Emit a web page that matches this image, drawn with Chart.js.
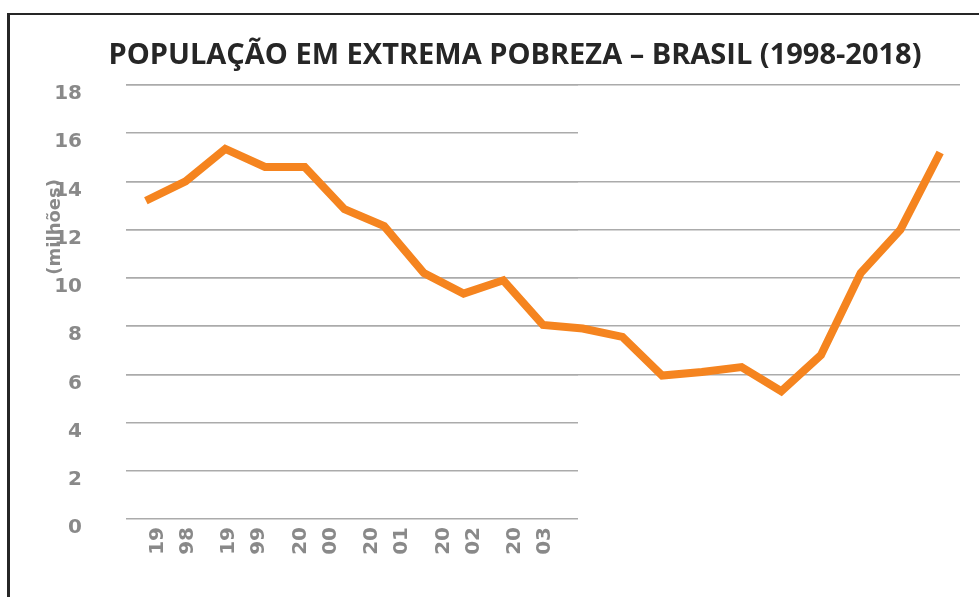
<!DOCTYPE html>
<html>
<head>
<meta charset="utf-8">
<script src="https://cdn.jsdelivr.net/npm/chart.js@4.4.1/dist/chart.umd.min.js"></script>
<style>
  html, body { margin: 0; padding: 0; background: #fff; overflow: hidden; }
  #stage { position: relative; width: 979px; height: 597px; overflow: hidden; }
  #frame { position: absolute; left: 7px; top: 13px; width: 1100px; height: 700px;
           border-left: 3px solid #262626; border-top: 2px solid #262626; }
  #axisWrap { position: absolute; left: 0; top: 0; width: 578px; height: 597px; overflow: hidden; }
  #lineChart { position: absolute; left: 0; top: 0; }
</style>
</head>
<body>
<div id="stage">
  <div id="frame"></div>
  <div id="axisWrap"><canvas id="axisChart" width="722" height="597"></canvas></div>
  <canvas id="lineChart" width="979" height="597"></canvas>
</div>
<script>
// anos e valores (milhões de pessoas)
var years = ["1998", "1999", "2000", "2001", "2002", "2003", "2004", "2005", "2006", "2007",
             "2008", "2009", "2010", "2011", "2012", "2013", "2014", "2015", "2016", "2017", "2018"];
var values = [13.2, 14.0, 15.35, 14.6, 14.6, 12.85, 12.15, 10.2, 9.35, 9.9,
              8.05, 7.9, 7.55, 5.95, 6.1, 6.3, 5.3, 6.8, 10.2, 12.0, 15.2];

// rótulos do eixo x que aparecem (cortados) no original
var tickYears = ["1998", "1999", "2000", "2001", "2002", "2003", "2004", "2005"];
var yTicks = [0, 2, 4, 6, 8, 10, 12, 14, 16, 18];
var longLines = [6, 8, 10, 12, 14, 18];

var chartTitle = "POPULAÇÃO EM EXTREMA POBREZA – BRASIL (1998-2018)";
var yTitle = "(milhões)";

var grey = "#898989";
var gridColor = "#ababab";
var orange = "#F5841F";

// eixos, rótulos e linhas de grade curtas
new Chart(document.getElementById("axisChart"), {
  type: "line",
  data: { labels: tickYears, datasets: [] },
  options: {
    responsive: false,
    animation: false,
    layout: { padding: { top: 85, left: 0, right: 0, bottom: 0 } },
    plugins: { legend: { display: false }, tooltip: { enabled: false } },
    scales: {
      x: {
        offset: true,
        grid: { display: false },
        border: { display: false },
        ticks: {
          autoSkip: false, minRotation: 90, maxRotation: 90, padding: 0, labelOffset: -4,
          color: grey,
          font: { family: "DejaVu Sans", weight: "bold", size: 20, lineHeight: 1.5 },
          callback: function(v, i) {
            var s = tickYears[i];
            return [s.slice(0, 2), s.slice(2)];
          }
        },
        afterFit: function(s) { s.height = 78; }
      },
      y: {
        min: 0, max: 18,
        afterBuildTicks: function(s) { s.ticks = yTicks.map(function(v) { return { value: v }; }); },
        ticks: {
          padding: 44, labelOffset: 9, color: grey,
          font: { family: "DejaVu Sans", weight: "bold", size: 20 }
        },
        grid: { color: gridColor, lineWidth: 1.5, drawTicks: false },
        border: { display: false },
        title: {
          display: true,
          text: yTitle + "\u00a0".repeat(15),
          align: "end",
          color: grey,
          padding: { top: 45, bottom: 0 },
          font: { family: "DejaVu Sans", weight: "bold", size: 18, lineHeight: 1.2 }
        },
        afterFit: function(s) { s.width = 126; }
      }
    }
  }
});

// série e linhas de grade longas
new Chart(document.getElementById("lineChart"), {
  type: "line",
  data: {
    labels: years,
    datasets: [{
      data: values,
      borderColor: orange,
      borderWidth: 8,
      pointRadius: 0,
      tension: 0,
      fill: false
    }]
  },
  options: {
    responsive: false,
    animation: false,
    layout: { padding: { top: 0, left: 70, right: 19, bottom: 78 } },
    plugins: {
      legend: { display: false },
      tooltip: { enabled: false },
      title: {
        display: true,
        text: chartTitle,
        color: "#262626",
        font: { family: "Open Sans", weight: "bold", size: 29, lineHeight: 1.2 },
        padding: { top: 38, bottom: 12.2 }
      }
    },
    scales: {
      x: { display: false, offset: true },
      y: {
        min: 0, max: 18,
        afterBuildTicks: function(s) { s.ticks = yTicks.map(function(v) { return { value: v }; }); },
        ticks: { display: false },
        grid: {
          drawTicks: false, lineWidth: 1.5,
          color: function(ctx) {
            return ctx.tick && longLines.indexOf(ctx.tick.value) >= 0 ? gridColor : "rgba(0,0,0,0)";
          }
        },
        border: { display: false },
        afterFit: function(s) { s.width = 56; }
      }
    }
  }
});
</script>
</body>
</html>
